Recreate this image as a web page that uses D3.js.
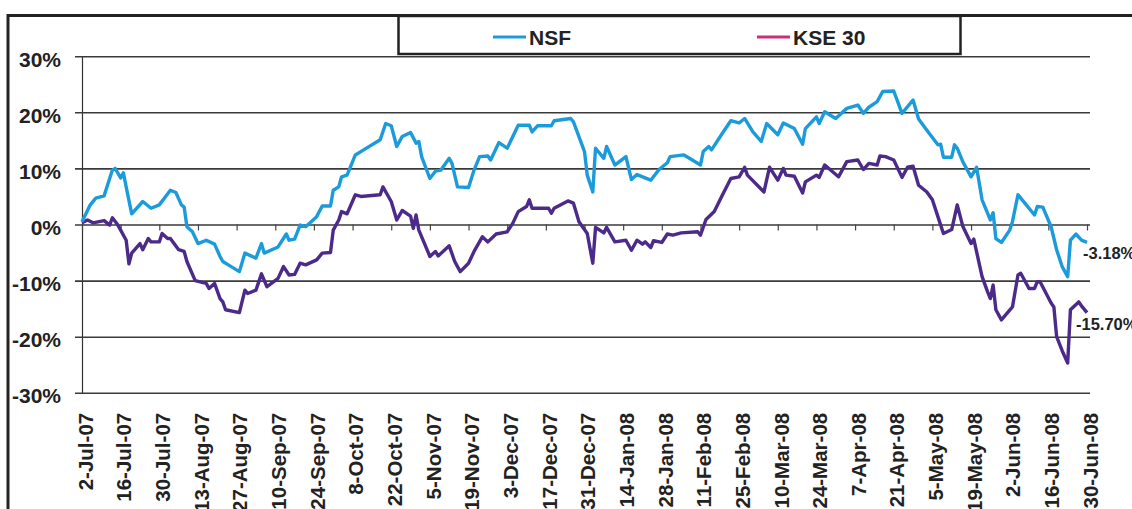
<!DOCTYPE html>
<html>
<head>
<meta charset="utf-8">
<script src="https://cdn.jsdelivr.net/npm/d3@7"></script>
<style>
    body { margin: 0; background: #fff; }
    svg { display: block; font-family: "Liberation Sans", Arial, sans-serif; font-weight: bold; }
</style>
</head>
<body>
<div id="chart"></div>
<script>
// ── Data (days since 2-Jul-07, cumulative return %) ──
const startDate = new Date(2007, 6, 2);
const endDate = new Date(2008, 5, 30);

const xLabels = [
    "2-Jul-07", "16-Jul-07", "30-Jul-07", "13-Aug-07", "27-Aug-07", "10-Sep-07",
    "24-Sep-07", "8-Oct-07", "22-Oct-07", "5-Nov-07", "19-Nov-07", "3-Dec-07",
    "17-Dec-07", "31-Dec-07", "14-Jan-08", "28-Jan-08", "11-Feb-08", "25-Feb-08",
    "10-Mar-08", "24-Mar-08", "7-Apr-08", "21-Apr-08", "5-May-08", "19-May-08",
    "2-Jun-08", "16-Jun-08", "30-Jun-08"
];
const labelDays = [0, 14, 28, 42, 56, 70, 84, 98, 112, 126, 140, 154, 168, 182,
    196, 210, 224, 238, 252, 266, 280, 294, 308, 322, 336, 350, 364];

const yTicks = [-30, -20, -10, 0, 10, 20, 30];

const nsfPoints = [
    [0, 0.5], [3, 3.5], [5, 4.7], [8, 5.1], [11, 9.7], [12, 10.0], [14, 8.3], [15, 9.2],
    [16, 6.7], [18, 1.9], [22, 4.1], [25, 2.9], [28, 3.5], [32, 6.1], [34, 5.7], [36, 3.5],
    [37, 3.1], [38, -0.4], [40, -1.3], [42, -3.4], [45, -2.8], [48, -3.5], [50, -5.7],
    [51, -6.6], [53, -7.2], [57, -8.4], [59, -5.1], [63, -6.0], [65, -3.4], [66, -5.1],
    [71, -4.0], [74, -1.7], [75, -2.8], [77, -2.6], [79, -0.1], [81, -0.4], [85, 1.4],
    [87, 3.3], [90, 3.3], [91, 6.1], [93, 6.7], [94, 8.5], [96, 8.8], [99, 12.4],
    [102, 13.3], [108, 15.1], [110, 18.0], [112, 17.6], [114, 13.9], [116, 15.7],
    [119, 16.4], [121, 14.5], [122, 14.8], [123, 12.1], [126, 8.2], [128, 9.5], [130, 9.7],
    [133, 11.8], [134, 10.9], [136, 6.7], [140, 6.6], [142, 9.7], [144, 12.1], [147, 12.2],
    [148, 11.5], [151, 14.6], [154, 13.6], [158, 17.7], [162, 17.7], [163, 16.5],
    [165, 17.6], [170, 17.6], [171, 18.5], [177, 18.9], [178, 18.3], [182, 13.0],
    [183, 8.8], [185, 5.8], [186, 13.6], [189, 11.8], [190, 13.9], [193, 10.6],
    [197, 12.1], [199, 8.0], [201, 8.9], [206, 7.9], [209, 9.8], [212, 11.0], [213, 12.1],
    [218, 12.4], [220, 11.8], [224, 10.6], [225, 13.0], [227, 13.9], [228, 13.3],
    [232, 16.3], [235, 18.5], [238, 18.1], [240, 18.9], [241, 18.1], [243, 16.5],
    [246, 14.8], [248, 18.0], [252, 16.0], [254, 18.1], [258, 17.1], [261, 14.3],
    [262, 17.1], [266, 19.2], [267, 18.0], [269, 20.1], [273, 18.9], [277, 20.7],
    [281, 21.3], [283, 19.8], [285, 20.9], [288, 21.9], [290, 23.7], [294, 23.8],
    [297, 19.8], [301, 22.2], [303, 18.8], [306, 16.8], [310, 14.2], [311, 14.3],
    [312, 12.0], [315, 12.0], [316, 14.2], [317, 13.6], [319, 11.2], [322, 8.5],
    [324, 10.2], [326, 4.4], [329, 0.8], [330, 2.1], [331, -2.5], [333, -3.2],
    [336, -1.0], [337, 0.5], [339, 5.3], [340, 4.7], [345, 1.7], [346, 3.2], [348, 3.1],
    [351, -0.4], [353, -4.5], [355, -7.5], [357, -9.3], [358, -2.8], [360, -1.7],
    [362, -2.8], [364, -3.18]
];

const ksePoints = [
    [0, 0.3], [2, 0.8], [4, 0.3], [8, 0.7], [10, -0.1], [11, 1.2], [13, -0.1], [14, -1.0],
    [16, -2.8], [17, -7.0], [18, -5.1], [21, -3.4], [22, -4.5], [24, -2.5], [25, -3.1],
    [28, -3.1], [29, -1.6], [31, -2.5], [32, -2.5], [35, -4.5], [37, -4.8], [38, -6.6],
    [41, -10.0], [45, -10.5], [46, -11.4], [48, -10.5], [50, -13.2], [51, -13.8],
    [52, -15.2], [57, -15.7], [59, -11.7], [60, -12.3], [63, -11.7], [65, -8.8],
    [67, -11.1], [71, -9.6], [73, -7.5], [75, -9.0], [77, -8.9], [79, -6.9], [81, -7.2],
    [85, -6.3], [87, -5.1], [90, -5.0], [91, -1.0], [93, 0.8], [94, 2.3], [96, 1.9],
    [99, 5.3], [101, 5.0], [108, 5.3], [109, 6.7], [112, 4.1], [114, 0.8], [116, 2.5],
    [119, 1.5], [120, -0.7], [121, 1.7], [122, -1.0], [126, -5.7], [128, -4.8],
    [129, -5.6], [133, -3.8], [135, -6.6], [137, -8.4], [140, -6.9], [142, -4.8],
    [145, -2.2], [147, -3.1], [150, -1.7], [154, -1.3], [156, 0.2], [158, 2.3],
    [161, 3.2], [162, 4.4], [163, 2.9], [169, 2.9], [170, 2.0], [171, 2.9], [176, 4.2],
    [178, 3.8], [180, 0.5], [183, -1.6], [185, -6.9], [186, -0.5], [189, -1.5],
    [190, -0.5], [193, -3.1], [197, -2.8], [199, -4.6], [201, -2.8], [203, -3.5],
    [204, -3.1], [206, -4.1], [207, -2.9], [210, -3.2], [212, -1.7], [214, -1.9],
    [217, -1.5], [223, -1.3], [224, -1.9], [226, 0.9], [229, 2.3], [232, 5.3], [235, 8.2],
    [238, 8.5], [240, 10.2], [241, 8.8], [247, 5.8], [249, 10.2], [252, 7.9], [254, 10.0],
    [255, 8.8], [258, 8.6], [261, 5.6], [262, 7.6], [266, 8.8], [267, 8.4], [269, 10.6],
    [274, 8.5], [277, 11.2], [281, 11.5], [283, 9.8], [285, 10.9], [288, 10.6],
    [289, 12.2], [291, 12.1], [294, 11.5], [297, 8.4], [299, 10.2], [301, 10.4],
    [303, 7.0], [306, 5.8], [308, 4.4], [310, 1.4], [312, -1.6], [315, -0.9], [317, 3.5],
    [319, -0.3], [322, -3.4], [323, -2.6], [326, -9.3], [328, -12.0], [329, -13.2],
    [330, -10.8], [331, -15.2], [333, -17.0], [337, -14.7], [339, -9.0], [340, -8.7],
    [343, -11.4], [345, -11.4], [346, -10.2], [347, -10.2], [351, -14.0], [352, -14.7],
    [353, -20.0], [355, -22.5], [357, -24.7], [358, -15.2], [361, -13.8], [362, -14.5],
    [364, -15.7]
];

const endLabels = ["-3.18%", "-15.70%"];

// ── Layout ──
const width = 1132, height = 509;
const plotLeft = 82, plotRight = 1087, gridRight = 1090;
const nsfColor = "#1c9bdb";
const kseColor = "#4c2a8a";
const kseLegendColor = "#c8307e";

const svg = d3.select("#chart").append("svg")
    .attr("width", width)
    .attr("height", height);

const x = d3.scaleTime()
    .domain([startDate, endDate])
    .range([plotLeft, plotRight]);

const y = d3.scaleLinear()
    .domain([-30, 30])
    .range([392.8, 56.2]);

const dayDate = d => d3.timeDay.offset(startDate, d);

// ── Outer frame ──
svg.append("path")
    .attr("d", `M8,${height} L8,15.5 L${width},15.5`)
    .attr("fill", "none")
    .attr("stroke", "#222")
    .attr("stroke-width", 3);

// ── Y axis + gridlines ──
const yAxis = svg.append("g")
    .attr("transform", `translate(${plotLeft},0)`)
    .call(d3.axisLeft(y)
        .tickValues(yTicks)
        .tickFormat(d => d + "%")
        .tickSize(-(gridRight - plotLeft))
        .tickSizeOuter(0)
        .tickPadding(21));

yAxis.select(".domain").attr("stroke", "#333").attr("stroke-width", 1.2);
yAxis.selectAll(".tick line")
    .attr("x1", -7)
    .attr("stroke", "#3a3a3a")
    .attr("stroke-width", 1.6);
yAxis.selectAll(".tick text")
    .attr("dy", "0.48em")
    .attr("fill", "#222")
    .style("font-size", "21px")
    .style("font-weight", "bold");

// ── X axis ticks on the 0% line ──
const xTickAxis = svg.append("g")
    .attr("transform", `translate(0,${y(0)})`)
    .call(d3.axisBottom(x)
        .tickValues(labelDays.map(dayDate))
        .tickFormat("")
        .tickSize(6)
        .tickSizeOuter(0));
xTickAxis.select(".domain").remove();
xTickAxis.selectAll(".tick line").attr("stroke", "#444").attr("stroke-width", 1.2);

// ── X labels at the bottom ──
const xLabelAxis = svg.append("g")
    .attr("transform", `translate(0,${y(-30)})`)
    .call(d3.axisBottom(x)
        .tickValues(labelDays.map(dayDate))
        .tickFormat((d, i) => xLabels[i])
        .tickSize(0));
xLabelAxis.select(".domain").remove();
xLabelAxis.selectAll(".tick text")
    .attr("transform", "rotate(-90)")
    .attr("text-anchor", "end")
    .attr("x", -20)
    .attr("y", 0)
    .attr("dy", "0.5em")
    .attr("fill", "#222")
    .style("font-size", "20.5px")
    .style("font-weight", "bold");

// ── Lines ──
const line = d3.line()
    .x(d => x(dayDate(d[0])))
    .y(d => y(d[1]));

svg.append("path")
    .datum(ksePoints)
    .attr("d", line)
    .attr("fill", "none")
    .attr("stroke", kseColor)
    .attr("stroke-width", 3.4)
    .attr("stroke-linejoin", "round");

svg.append("path")
    .datum(nsfPoints)
    .attr("d", line)
    .attr("fill", "none")
    .attr("stroke", nsfColor)
    .attr("stroke-width", 3.4)
    .attr("stroke-linejoin", "round");

// ── End labels ──
svg.append("text")
    .attr("x", 1083)
    .attr("y", 259)
    .attr("fill", "#222")
    .style("font-size", "16.5px")
    .text(endLabels[0]);

svg.append("text")
    .attr("x", 1076)
    .attr("y", 330)
    .attr("fill", "#222")
    .style("font-size", "16.5px")
    .text(endLabels[1]);

// ── Legend ──
const legend = svg.append("g");
legend.append("rect")
    .attr("x", 398.5)
    .attr("y", 16)
    .attr("width", 562)
    .attr("height", 38)
    .attr("fill", "#fff")
    .attr("stroke", "#222")
    .attr("stroke-width", 2.5);

const legendItems = [
    { name: "NSF", color: nsfColor, x: 493 },
    { name: "KSE 30", color: kseLegendColor, x: 757 }
];
legendItems.forEach(item => {
    legend.append("line")
        .attr("x1", item.x).attr("x2", item.x + 33)
        .attr("y1", 37).attr("y2", 37)
        .attr("stroke", item.color)
        .attr("stroke-width", 3);
    legend.append("text")
        .attr("x", item.x + 36)
        .attr("y", 45)
        .attr("fill", "#222")
        .style("font-size", "21px")
        .text(item.name);
});
</script>
</body>
</html>
